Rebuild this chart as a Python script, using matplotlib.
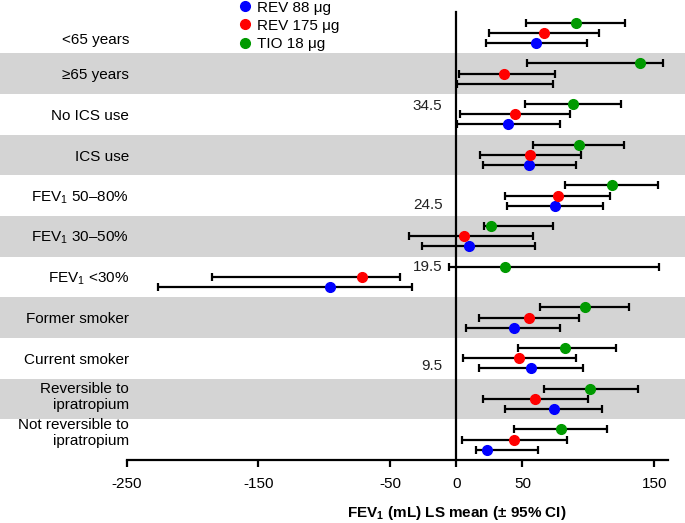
import matplotlib
matplotlib.use("Agg")
import matplotlib.pyplot as plt
import numpy as np
from matplotlib.lines import Line2D
from matplotlib.patches import Rectangle
from matplotlib.transforms import blended_transform_factory

plt.rcParams['font.family'] = ['Liberation Sans', 'DejaVu Sans']
plt.rcParams['mathtext.fontset'] = 'custom'
plt.rcParams['mathtext.rm'] = 'Liberation Sans'
plt.rcParams['mathtext.bf'] = 'Liberation Sans:bold'
plt.rcParams['axes.unicode_minus'] = False

# Subgroups, top to bottom
subgroups = ['<65 years', '≥65 years', 'No ICS use', 'ICS use',
             r'FEV$_1$ 50–80%', r'FEV$_1$ 30–50%', r'FEV$_1$ <30%',
             'Former smoker', 'Current smoker',
             'Reversible to\nipratropium', 'Not reversible to\nipratropium']

# LS mean and 95% CI (mL)
rev88_mean = [60.6, np.nan, 38.8, 55.4, 74.6, 9.2, -95.9, 43.3, 56.4, 73.7, 23.0]
rev88_lo = [22.8, 0.5, 0.5, 19.8, 38.0, -25.7, -226.0, 7.0, 17.5, 36.6, 14.5]
rev88_hi = [99.0, 73.1, 78.4, 90.7, 111.0, 59.6, -34.0, 78.6, 96.2, 110.0, 62.0]

rev175_mean = [66.2, 36.1, 44.6, 56.1, 76.9, 5.5, -71.3, 54.8, 47.6, 59.6, 43.6]
rev175_lo = [24.6, 2.3, 3.0, 17.8, 37.0, -35.7, -185.0, 17.3, 5.0, 20.0, 4.3]
rev175_hi = [108.0, 75.0, 86.4, 94.5, 116.5, 57.9, -43.0, 92.7, 90.7, 99.7, 83.7]

tio_mean = [90.7, 139.0, 88.4, 92.7, 117.8, 26.1, 37.0, 97.2, 82.4, 101.5, 79.2]
tio_lo = [52.6, 53.6, 52.0, 57.9, 82.1, 20.8, -5.4, 63.4, 46.4, 66.4, 43.8]
tio_hi = [127.6, 156.8, 125.0, 127.0, 152.6, 73.4, 153.3, 131.0, 120.7, 137.3, 114.2]

series = [
    ('REV 88 μg', '#0000ff', rev88_mean, rev88_lo, rev88_hi, 0.25),
    ('REV 175 μg', '#ff0000', rev175_mean, rev175_lo, rev175_hi, 0.0),
    ('TIO 18 μg', '#009a00', tio_mean, tio_lo, tio_hi, -0.25),
]

# stray numbers left on the original figure
stray_text = ['34.5', '24.5', '19.5', '9.5']
stray_row = [1.79, 4.24, 5.75, 8.18]

fig = plt.figure(figsize=(6.85, 5.23), dpi=100)
ax = fig.add_axes([126.5 / 685, 63 / 523, 541 / 685, 447.5 / 523])
ax.patch.set_visible(False)

n = len(subgroups)
rows = np.arange(n)
band_tr = blended_transform_factory(fig.transFigure, ax.transData)

# alternating grey bands across the full width
for i in rows[1::2]:
    ax.add_patch(Rectangle((0, i - 0.5), 1, 1, transform=band_tr,
                           facecolor='#d4d4d4', edgecolor='none',
                           clip_on=False, zorder=0))

for name, color, mean, lo, hi, off in series:
    y = rows + off
    ax.hlines(y, lo, hi, color='black', lw=1.6, zorder=2)
    ax.plot(lo, y, ls='none', marker='|', ms=6, mew=1.6, color='black', zorder=2)
    ax.plot(hi, y, ls='none', marker='|', ms=6, mew=1.6, color='black', zorder=2)
    ax.plot(mean, y, ls='none', marker='o', ms=7, color=color, zorder=3)

# row labels
nudge = [0.18, 0.04, 0.04, 0.04, 0.04, 0.04, 0.04, 0.04, 0.04, -0.05, -0.17]
for i, lab in enumerate(subgroups):
    ax.text(129 / 685, i + nudge[i], lab, transform=band_tr, ha='right',
            va='center', multialignment='right', fontsize=11,
            linespacing=1.2, zorder=4)

for s, r in zip(stray_text, stray_row):
    ax.text(-10.6, r, s, ha='right', va='center', fontsize=11, color='#222222')

ax.set_xlim(-250, 160)
ax.set_ylim(n - 0.5, -0.5)
ax.set_xticks([-250, -150, -50, 0, 50, 150])
ax.set_yticks([])
ax.spines['top'].set_visible(False)
ax.spines['right'].set_visible(False)
ax.spines['left'].set_position(('data', 0))
ax.spines['left'].set_linewidth(1.6)
ax.spines['bottom'].set_linewidth(1.6)
ax.spines['left'].set_zorder(1)
ax.tick_params(axis='x', length=5, width=1.6, labelsize=11, pad=7)

ax.set_xlabel(r'FEV$_\mathbf{1}$ (mL) LS mean (± 95% CI)', fontsize=11,
              fontweight='bold')
ax.xaxis.set_label_coords(0.61, -0.098)

handles = [Line2D([], [], ls='none', marker='o', ms=7, color=c)
           for _, c, *_ in series]
fig.legend(handles, [s[0] for s in series], loc='upper left',
           bbox_to_anchor=(239 / 685, 0.999), frameon=False, fontsize=11,
           handlelength=0.8, handletextpad=0.38, labelspacing=0.28,
           borderpad=0, borderaxespad=0)

fig.savefig('out.png', dpi=100)
